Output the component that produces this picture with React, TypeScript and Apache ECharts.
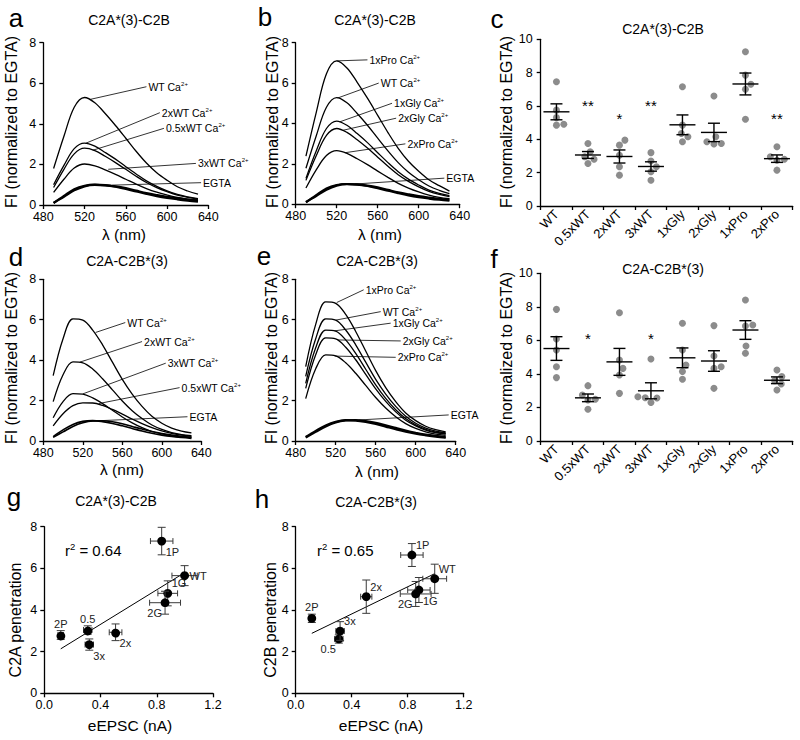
import React, { useEffect, useRef } from "react";
import * as echarts from "echarts";

const FONT = "'Liberation Sans', Arial, Helvetica, sans-serif";

// ---------- spectra (λ in nm, FI normalized to EGTA) ----------
const wavelengths = [490, 500, 510, 520, 530, 540, 550, 560, 570, 580, 590, 600, 610, 620, 630];

// panel a : C2A*(3)-C2B, Ca2+ titration
const aWT = [1.8, 3.39, 4.82, 5.3, 5.04, 4.51, 3.92, 3.29, 2.65, 2.07, 1.59, 1.22, 0.9, 0.69, 0.53];
const aTwoWT = [1.0, 1.95, 2.78, 3.05, 2.9, 2.59, 2.26, 1.89, 1.53, 1.19, 0.92, 0.7, 0.52, 0.4, 0.31];
const aHalfWT = [0.86, 1.76, 2.52, 2.8, 2.68, 2.4, 2.09, 1.76, 1.42, 1.11, 0.86, 0.66, 0.49, 0.38, 0.29];
const aThreeWT = [0.62, 1.27, 1.82, 2.02, 1.93, 1.73, 1.51, 1.27, 1.03, 0.81, 0.63, 0.49, 0.37, 0.29, 0.24];
const aEGTA1 = [0.09, 0.45, 0.78, 0.95, 1.0, 0.98, 0.92, 0.83, 0.71, 0.59, 0.49, 0.4, 0.33, 0.27, 0.23];
const aEGTA2 = [0.11, 0.4, 0.72, 0.92, 0.99, 0.97, 0.9, 0.79, 0.67, 0.55, 0.44, 0.35, 0.28, 0.22, 0.17];

// panel b : C2A*(3)-C2B, linker mutants
const bPro1 = [2.38, 4.54, 6.46, 7.1, 6.75, 6.04, 5.25, 4.4, 3.55, 2.77, 2.13, 1.63, 1.21, 0.92, 0.65];
const bWT = [1.78, 3.38, 4.8, 5.28, 5.02, 4.49, 3.91, 3.27, 2.64, 2.06, 1.58, 1.21, 0.9, 0.69, 0.53];
const bGly1 = [1.28, 2.64, 3.75, 4.12, 3.91, 3.5, 3.05, 2.55, 2.06, 1.61, 1.24, 0.95, 0.7, 0.54, 0.43];
const bGly2 = [1.18, 2.4, 3.41, 3.75, 3.56, 3.19, 2.78, 2.33, 1.88, 1.46, 1.13, 0.86, 0.64, 0.49, 0.38];
const bPro2 = [0.8, 1.7, 2.41, 2.65, 2.52, 2.25, 1.96, 1.64, 1.33, 1.03, 0.8, 0.61, 0.45, 0.34, 0.27];
const bEGTA1 = [0.09, 0.45, 0.78, 0.95, 1.0, 0.98, 0.92, 0.83, 0.71, 0.59, 0.49, 0.4, 0.33, 0.27, 0.23];
const bEGTA2 = [0.11, 0.4, 0.72, 0.92, 0.99, 0.97, 0.9, 0.79, 0.67, 0.55, 0.44, 0.35, 0.28, 0.22, 0.17];

// panel d : C2A-C2B*(3), Ca2+ titration
const dWT = [3.23, 5.06, 6.04, 5.98, 5.49, 4.76, 3.9, 3.05, 2.32, 1.71, 1.22, 0.88, 0.64, 0.49, 0.4];
const dTwoWT = [1.95, 3.28, 3.91, 3.87, 3.56, 3.08, 2.53, 1.98, 1.5, 1.11, 0.79, 0.57, 0.41, 0.32, 0.26];
const dThreeWT = [1.15, 1.95, 2.34, 2.32, 2.13, 1.85, 1.52, 1.19, 0.9, 0.66, 0.47, 0.35, 0.26, 0.2, 0.17];
const dHalfWT = [0.75, 1.35, 1.75, 1.89, 1.88, 1.76, 1.56, 1.33, 1.09, 0.86, 0.66, 0.5, 0.38, 0.29, 0.23];
const dEGTA1 = [0.18, 0.45, 0.72, 0.9, 0.99, 1.0, 0.95, 0.85, 0.72, 0.59, 0.47, 0.37, 0.29, 0.23, 0.18];
const dEGTA2 = [0.22, 0.55, 0.82, 0.97, 1.01, 0.96, 0.87, 0.75, 0.62, 0.49, 0.38, 0.29, 0.22, 0.17, 0.13];

// panel e : C2A-C2B*(3), linker mutants
const ePro1 = [3.68, 5.77, 6.88, 6.81, 6.26, 5.42, 4.45, 3.48, 2.64, 1.95, 1.39, 1.01, 0.73, 0.56, 0.45];
const eWT = [3.2, 5.06, 6.04, 5.98, 5.49, 4.76, 3.9, 3.05, 2.32, 1.71, 1.22, 0.88, 0.64, 0.49, 0.4];
const eGly1 = [2.85, 4.61, 5.49, 5.44, 5.0, 4.33, 3.55, 2.78, 2.11, 1.55, 1.11, 0.8, 0.58, 0.44, 0.36];
const eGly2 = [2.6, 4.27, 5.1, 5.05, 4.64, 4.02, 3.3, 2.58, 1.96, 1.44, 1.03, 0.75, 0.54, 0.41, 0.34];
const ePro2 = [2.1, 3.57, 4.26, 4.21, 3.87, 3.35, 2.75, 2.15, 1.63, 1.2, 0.86, 0.62, 0.45, 0.34, 0.28];
const eEGTA1 = [0.17, 0.45, 0.72, 0.92, 1.02, 1.04, 0.99, 0.9, 0.78, 0.65, 0.52, 0.41, 0.32, 0.25, 0.19];
const eEGTA2 = [0.2, 0.5, 0.77, 0.95, 1.03, 1.01, 0.94, 0.84, 0.71, 0.58, 0.46, 0.36, 0.28, 0.21, 0.16];

// curve annotations (label, has Ca2+, leader start [nm, FI], leader end [nm, FI])
const aNoteLabels = ["WT", "2xWT", "0.5xWT", "3xWT", "EGTA"];
const aNoteCa = [true, true, true, true, false];
const aNoteFrom = [[525, 5.2], [521, 3.04], [528, 2.7], [543, 1.76], [547, 0.98]];
const aNoteTo = [[580, 5.83], [593, 4.55], [597, 3.78], [628, 2.05], [633, 1.1]];

const bNoteLabels = ["1xPro", "WT", "1xGly", "2xGly", "2xPro", "EGTA"];
const bNoteCa = [true, true, true, true, true, false];
const bNoteFrom = [[520, 7.1], [521, 5.26], [523, 4.08], [526, 3.66], [528, 2.55], [538, 1.0]];
const bNoteTo = [[550, 7.15], [561, 6.0], [574, 5.0], [578, 4.26], [587, 2.99], [625, 1.29]];

const dNoteLabels = ["WT", "2xWT", "3xWT", "0.5xWT", "EGTA"];
const dNoteCa = [true, true, true, true, false];
const dNoteFrom = [[533, 5.37], [517, 3.9], [520, 2.33], [536, 1.85], [517, 0.96]];
const dNoteTo = [[563, 5.86], [580, 4.92], [604, 3.85], [618, 2.64], [626, 1.2]];

const eNoteLabels = ["1xPro", "WT", "1xGly", "2xGly", "2xPro", "EGTA"];
const eNoteCa = [true, true, true, true, true, false];
const eNoteFrom = [[521, 6.85], [520, 5.98], [519, 5.45], [522, 5.0], [519, 4.2], [543, 1.04]];
const eNoteTo = [[548, 7.48], [565, 6.4], [575, 5.83], [585, 4.95], [580, 4.14], [633, 1.29]];

// ---------- dot plots (c, f) ----------
const mutantCats = ["WT", "0.5xWT", "2xWT", "3xWT", "1xGly", "2xGly", "1xPro", "2xPro"];
const cDots = [
  [7.45, 5.75, 5.3, 4.9, 4.85],
  [3.75, 3.25, 2.95, 2.8, 2.55],
  [3.95, 3.65, 3.05, 2.35, 1.85],
  [3.2, 2.7, 2.35, 2.05, 1.55],
  [7.15, 4.85, 4.35, 4.15, 3.85],
  [6.6, 4.15, 3.85, 3.75, 3.72],
  [9.25, 7.85, 7.3, 7.0, 5.2],
  [3.55, 2.95, 2.8, 2.75, 2.15],
];
const cStars = ["", "**", "*", "**", "", "", "", "**"];
const cStarY = [0, 6.05, 5.25, 6.05, 0, 0, 0, 5.25];

const fDots = [
  [7.85, 6.08, 5.43, 4.43, 3.78],
  [3.3, 2.74, 2.49, 2.45, 1.89],
  [7.65, 4.83, 4.33, 3.94, 2.84],
  [4.89, 2.64, 2.58, 2.56, 2.3],
  [7.02, 5.43, 4.53, 4.14, 3.68],
  [6.88, 5.07, 4.43, 4.33, 3.14],
  [8.41, 6.92, 6.86, 5.67, 5.23],
  [4.23, 3.84, 3.6, 3.4, 3.04],
];
const fStars = ["", "*", "", "*", "", "", "", ""];
const fStarY = [0, 6.1, 0, 6.1, 0, 0, 0, 0];

// ---------- correlation (g, h) ----------
const corrLabels = ["WT", "0.5", "2x", "3x", "1G", "2G", "1P", "2P"];
const gX = [0.998, 0.309, 0.507, 0.32, 0.878, 0.859, 0.835, 0.117];
const gY = [5.65, 3.04, 2.93, 2.34, 4.8, 4.35, 7.31, 2.8];
const gXErr = [0.09, 0.03, 0.045, 0.03, 0.07, 0.11, 0.08, 0.02];
const gYErr = [0.48, 0.2, 0.4, 0.27, 0.6, 0.55, 0.66, 0.21];
const gLabelPos = ["r", "t", "br", "br", "tr", "bl", "br", "t"];

const hX = [0.993, 0.308, 0.504, 0.317, 0.88, 0.857, 0.83, 0.115];
const hY = [5.5, 2.61, 4.64, 2.99, 4.96, 4.77, 6.64, 3.6];
const hXErr = [0.085, 0.03, 0.04, 0.03, 0.08, 0.11, 0.08, 0.02];
const hYErr = [0.7, 0.2, 0.8, 0.45, 0.6, 0.6, 0.55, 0.2];
const hLabelPos = ["tr", "bl", "tr", "tr", "br", "bl", "tr", "t"];

// ---------- helpers ----------
const axisLine = { show: true, onZero: false, lineStyle: { color: "#000", width: 1.3 } };
const axisTick = { show: true, length: 4, lineStyle: { color: "#000", width: 1.3 } };
const tickLabel = (extra: any = {}) => ({ color: "#000", fontSize: 12.5, fontFamily: FONT, ...extra });

function specSeries(gi: number, vals: number[], width = 1.3) {
  return {
    type: "line",
    xAxisIndex: gi,
    yAxisIndex: gi,
    data: wavelengths.map((w, i) => [w, vals[i]]),
    smooth: 0.35,
    symbol: "none",
    silent: true,
    lineStyle: { color: "#000", width },
    z: 2,
  };
}

function noteSeries(gi: number, labels: string[], ca: boolean[], from: number[][], to: number[][]) {
  return {
    type: "custom",
    xAxisIndex: gi,
    yAxisIndex: gi,
    silent: true,
    clip: false,
    z: 5,
    data: labels.map((_, i) => [from[i][0], from[i][1], to[i][0], to[i][1], i]),
    encode: { x: [0, 2], y: [1, 3] },
    renderItem: (_p: any, api: any) => {
      const p1 = api.coord([api.value(0), api.value(1)]);
      const p2 = api.coord([api.value(2), api.value(3)]);
      const i = api.value(4) as number;
      const text = ca[i] ? `{t|${labels[i]} Ca}{s|2+}` : `{t|${labels[i]}}`;
      return {
        type: "group",
        children: [
          { type: "line", shape: { x1: p1[0], y1: p1[1], x2: p2[0], y2: p2[1] }, style: { stroke: "#000", lineWidth: 0.8 } },
          {
            type: "text",
            x: p2[0] + 2,
            y: p2[1],
            style: {
              text,
              align: "left",
              verticalAlign: "middle",
              rich: {
                t: { fontSize: 10.5, fontFamily: FONT, fill: "#000", lineHeight: 12 },
                s: { fontSize: 6, fontFamily: FONT, fill: "#000", verticalAlign: "top" },
              },
            },
          },
        ],
      };
    },
  };
}

function mean(v: number[]) {
  return v.reduce((a, b) => a + b, 0) / v.length;
}
function sem(v: number[]) {
  const m = mean(v);
  const sd = Math.sqrt(v.reduce((a, b) => a + (b - m) * (b - m), 0) / (v.length - 1));
  return sd / Math.sqrt(v.length);
}

function dotSeries(gi: number, dots: number[][], stars: string[], starY: number[]) {
  return {
    type: "custom",
    xAxisIndex: gi,
    yAxisIndex: gi,
    silent: true,
    clip: false,
    data: dots.map((d, i) => [i, mean(d)]),
    encode: { x: 0, y: 1 },
    renderItem: (_p: any, api: any) => {
      const ci = api.value(0) as number;
      const vals = dots[ci];
      const cx = api.coord([ci, 0])[0];
      const r = 3.5;
      const dd = 2 * r + 0.4;
      const ys = vals.map((v) => api.coord([ci, v])[1]);
      const order = ys.map((_, i) => i).sort((a, b) => ys[b] - ys[a]);
      const placed: { x: number; y: number }[] = [];
      for (const i of order) {
        const y = ys[i];
        const cands = [0];
        for (const p of placed) {
          const dy = Math.abs(p.y - y);
          if (dy < dd) {
            const dx = Math.sqrt(dd * dd - dy * dy);
            cands.push(p.x + dx, p.x - dx);
          }
        }
        cands.sort((a, b) => Math.abs(a) - Math.abs(b));
        let chosen = 0;
        for (const c of cands) {
          const ok = placed.every((p) => (p.x - c) ** 2 + (p.y - y) ** 2 >= dd * dd - 0.01);
          if (ok) {
            chosen = c;
            break;
          }
        }
        placed.push({ x: chosen, y });
      }
      const m = mean(vals);
      const s = sem(vals);
      const ym = api.coord([ci, m])[1];
      const yt = api.coord([ci, m + s])[1];
      const yb = api.coord([ci, m - s])[1];
      const ln = (x1: number, y1: number, x2: number, y2: number) => ({
        type: "line",
        shape: { x1, y1, x2, y2 },
        style: { stroke: "#000", lineWidth: 1.4 },
      });
      const children: any[] = placed.map((p) => ({
        type: "circle",
        shape: { cx: cx + p.x, cy: p.y, r },
        style: { fill: "#8c8c8c" },
      }));
      children.push(ln(cx - 13, ym, cx + 13, ym));
      children.push(ln(cx, yt, cx, yb));
      children.push(ln(cx - 6, yt, cx + 6, yt));
      children.push(ln(cx - 6, yb, cx + 6, yb));
      if (stars[ci]) {
        const sy = api.coord([ci, starY[ci]])[1];
        children.push({
          type: "text",
          x: cx,
          y: sy,
          style: { text: stars[ci], fontSize: 15, fontFamily: FONT, fill: "#000", align: "center", verticalAlign: "middle" },
        });
      }
      return { type: "group", children };
    },
  };
}

const LABEL_OFFSETS: Record<string, [number, number, string]> = {
  r: [5, 0, "left"],
  t: [0, -11, "center"],
  tr: [4, -10, "left"],
  br: [4, 11, "left"],
  bl: [-3, 10, "right"],
};

function corrSeries(gi: number, xs: number[], ys: number[], xe: number[], ye: number[], pos: string[]) {
  return {
    type: "custom",
    xAxisIndex: gi,
    yAxisIndex: gi,
    silent: true,
    clip: false,
    z: 4,
    data: xs.map((x, i) => [x, ys[i], i]),
    encode: { x: 0, y: 1 },
    renderItem: (_p: any, api: any) => {
      const x = api.value(0) as number;
      const y = api.value(1) as number;
      const i = api.value(2) as number;
      const c = api.coord([x, y]);
      const l = api.coord([x - xe[i], y]);
      const rr = api.coord([x + xe[i], y]);
      const t = api.coord([x, y + ye[i]]);
      const b = api.coord([x, y - ye[i]]);
      const st = { stroke: "#3a3a3a", lineWidth: 1 };
      const ln = (x1: number, y1: number, x2: number, y2: number) => ({ type: "line", shape: { x1, y1, x2, y2 }, style: st });
      const off = LABEL_OFFSETS[pos[i]];
      return {
        type: "group",
        children: [
          ln(l[0], c[1], rr[0], c[1]),
          ln(l[0], c[1] - 3, l[0], c[1] + 3),
          ln(rr[0], c[1] - 3, rr[0], c[1] + 3),
          ln(c[0], t[1], c[0], b[1]),
          ln(c[0] - 4, t[1], c[0] + 4, t[1]),
          ln(c[0] - 4, b[1], c[0] + 4, b[1]),
          { type: "circle", shape: { cx: c[0], cy: c[1], r: 4.4 }, style: { fill: "#000" } },
          {
            type: "text",
            x: c[0] + off[0],
            y: c[1] + off[1],
            style: { text: corrLabels[i], fontSize: 11, fontFamily: FONT, fill: "#222", align: off[2], verticalAlign: "middle" },
          },
        ],
      };
    },
  };
}

function regressionSeries(gi: number, xs: number[], ys: number[]) {
  const mx = mean(xs);
  const my = mean(ys);
  let sxy = 0;
  let sxx = 0;
  xs.forEach((x, i) => {
    sxy += (x - mx) * (ys[i] - my);
    sxx += (x - mx) * (x - mx);
  });
  const slope = sxy / sxx;
  const icpt = my - slope * mx;
  const x0 = Math.min(...xs);
  const x1 = Math.max(...xs);
  return {
    type: "line",
    xAxisIndex: gi,
    yAxisIndex: gi,
    silent: true,
    symbol: "none",
    z: 3,
    lineStyle: { color: "#000", width: 1 },
    data: [
      [x0, icpt + slope * x0],
      [x1, icpt + slope * x1],
    ],
  };
}

function specX(gi: number) {
  return {
    type: "value", gridIndex: gi, min: 480, max: 640, interval: 40,
    axisLine, axisTick, splitLine: { show: false },
    axisLabel: tickLabel({ margin: 5 }),
  };
}
function specY(gi: number) {
  return {
    type: "value", gridIndex: gi, min: 0, max: 8, interval: 2,
    axisLine, axisTick, splitLine: { show: false },
    axisLabel: tickLabel({ margin: 7 }),
  };
}
function catX(gi: number) {
  return {
    type: "category", gridIndex: gi, data: mutantCats, boundaryGap: true,
    axisLine, axisTick: { ...axisTick, interval: 0, alignWithLabel: false },
    axisLabel: tickLabel({ rotate: 45, interval: 0, margin: 6, fontSize: 13 }),
    splitLine: { show: false },
  };
}
function fiY(gi: number) {
  return {
    type: "value", gridIndex: gi, min: 0, max: 10, interval: 2,
    axisLine, axisTick, splitLine: { show: false },
    axisLabel: tickLabel({ margin: 8 }),
  };
}
function effX(gi: number) {
  return {
    type: "value", gridIndex: gi, min: 0, max: 1.2, interval: 0.4,
    axisLine, axisTick, splitLine: { show: false },
    axisLabel: tickLabel({ margin: 5, formatter: (v: number) => v.toFixed(1) }),
  };
}

function txt(text: string, x: number, y: number, fontSize: number, rotate = false, align = "center") {
  return {
    type: "text",
    x,
    y,
    rotation: rotate ? Math.PI / 2 : 0,
    silent: true,
    style: {
      text,
      fill: "#000",
      fontSize,
      fontFamily: FONT,
      align,
      textAlign: align,
      verticalAlign: "middle",
      textVerticalAlign: "middle",
    },
  };
}

function rTxt(value: string, x: number, y: number) {
  return {
    type: "text",
    x,
    y,
    silent: true,
    style: {
      text: `{a|r}{s|2}{a| = ${value}}`,
      align: "left",
      verticalAlign: "middle",
      rich: {
        a: { fontSize: 15, fontFamily: FONT, fill: "#000", lineHeight: 17 },
        s: { fontSize: 9.5, fontFamily: FONT, fill: "#000", verticalAlign: "top" },
      },
    },
  };
}

function buildOption() {
  const grids = [
    { left: 43.3, top: 42.7, width: 165, height: 162.3 },
    { left: 295.7, top: 42.7, width: 164, height: 161.5 },
    { left: 540.7, top: 39.3, width: 252, height: 166.7 },
    { left: 43.3, top: 279.3, width: 158, height: 161.7 },
    { left: 295.7, top: 279.3, width: 160, height: 161.7 },
    { left: 540.7, top: 273.3, width: 252, height: 167.7 },
    { left: 44.3, top: 526.7, width: 168.7, height: 166.6 },
    { left: 295.7, top: 526.7, width: 168, height: 166.6 },
  ];
  const FI = "FI (normalized to EGTA)";
  const graphic = [
    txt("a", 16, 18, 26), txt("b", 265, 17, 26), txt("c", 497, 19, 26),
    txt("d", 16, 257, 26), txt("e", 264, 256, 26), txt("f", 494, 259, 26),
    txt("g", 14, 497, 26), txt("h", 262, 499, 26),
    txt("C2A*(3)-C2B", 129, 20, 14), txt("C2A*(3)-C2B", 375, 20, 14), txt("C2A*(3)-C2B", 663, 29, 14),
    txt("C2A-C2B*(3)", 127, 261, 14), txt("C2A-C2B*(3)", 377, 261, 14), txt("C2A-C2B*(3)", 663, 269, 14),
    txt("C2A*(3)-C2B", 116, 501, 14), txt("C2A-C2B*(3)", 376, 502, 14),
    txt(FI, 11, 122, 16, true), txt(FI, 272, 122, 16, true), txt(FI, 506, 122, 16, true),
    txt(FI, 11, 358, 16, true), txt(FI, 271, 358, 16, true), txt(FI, 506, 358, 16, true),
    txt("C2A penetration", 15, 620, 16, true), txt("C2B penetration", 270, 620, 16, true),
    txt("λ (nm)", 124, 234, 15.5), txt("λ (nm)", 380, 234, 15.5),
    txt("λ (nm)", 122, 469, 15.5), txt("λ (nm)", 377, 471, 15.5),
    txt("eEPSC (nA)", 130, 725, 15.5), txt("eEPSC (nA)", 381, 725, 15.5),
    rTxt("0.64", 65, 550), rTxt("0.65", 317, 550),
  ];

  const series: any[] = [
    // a
    specSeries(0, aEGTA1, 2.2), specSeries(0, aEGTA2, 2.2),
    specSeries(0, aThreeWT), specSeries(0, aHalfWT), specSeries(0, aTwoWT), specSeries(0, aWT),
    noteSeries(0, aNoteLabels, aNoteCa, aNoteFrom, aNoteTo),
    // b
    specSeries(1, bEGTA1, 2.2), specSeries(1, bEGTA2, 2.2),
    specSeries(1, bPro2), specSeries(1, bGly2), specSeries(1, bGly1), specSeries(1, bWT), specSeries(1, bPro1),
    noteSeries(1, bNoteLabels, bNoteCa, bNoteFrom, bNoteTo),
    // c
    dotSeries(2, cDots, cStars, cStarY),
    // d
    specSeries(3, dEGTA1, 1.6), specSeries(3, dEGTA2, 1.6),
    specSeries(3, dHalfWT), specSeries(3, dThreeWT), specSeries(3, dTwoWT), specSeries(3, dWT),
    noteSeries(3, dNoteLabels, dNoteCa, dNoteFrom, dNoteTo),
    // e
    specSeries(4, eEGTA1, 2.2), specSeries(4, eEGTA2, 2.2),
    specSeries(4, ePro2), specSeries(4, eGly2), specSeries(4, eGly1), specSeries(4, eWT), specSeries(4, ePro1),
    noteSeries(4, eNoteLabels, eNoteCa, eNoteFrom, eNoteTo),
    // f
    dotSeries(5, fDots, fStars, fStarY),
    // g, h
    regressionSeries(6, gX, gY),
    corrSeries(6, gX, gY, gXErr, gYErr, gLabelPos),
    regressionSeries(7, hX, hY),
    corrSeries(7, hX, hY, hXErr, hYErr, hLabelPos),
  ];

  return {
    animation: false,
    backgroundColor: "#fff",
    textStyle: { fontFamily: FONT },
    grid: grids,
    xAxis: [specX(0), specX(1), catX(2), specX(3), specX(4), catX(5), effX(6), effX(7)],
    yAxis: [specY(0), specY(1), fiY(2), specY(3), specY(4), fiY(5), specY(6), specY(7)],
    graphic,
    series,
  };
}

export default function App() {
  const ref = useRef<HTMLDivElement>(null);
  useEffect(() => {
    const chart = echarts.init(ref.current!, null, { renderer: "svg" });
    chart.setOption(buildOption() as any);
    return () => chart.dispose();
  }, []);
  return (
    <div
      ref={ref}
      style={{ position: "absolute", left: 0, top: 0, width: 800, height: 740, background: "#fff" }}
    />
  );
}
